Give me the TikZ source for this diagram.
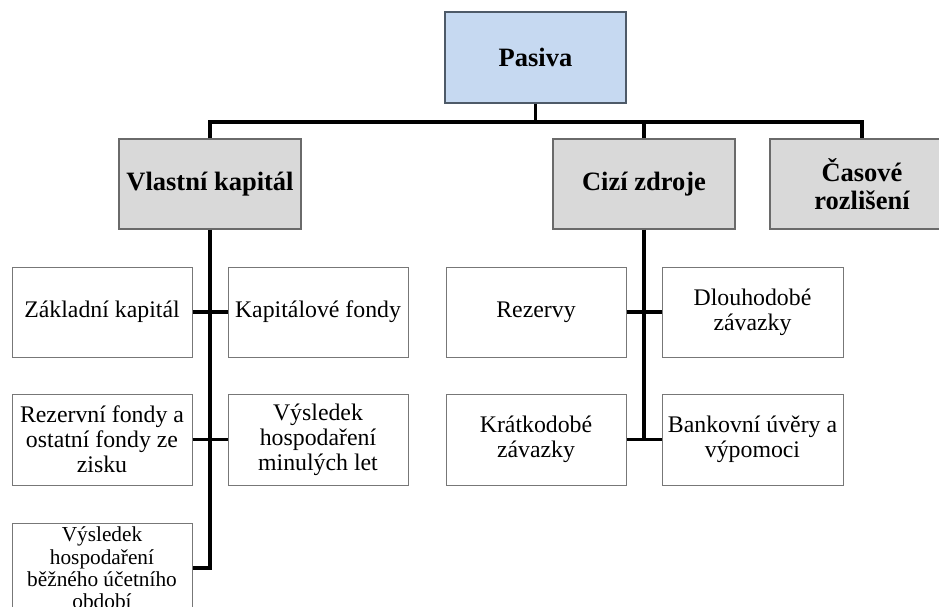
\documentclass[tikz,border=0pt]{standalone}
\usepackage{fontspec}
\setmainfont{Liberation Serif}
\definecolor{topfill}{HTML}{C6D9F1}
\definecolor{topline}{HTML}{4E5A68}
\definecolor{midfill}{HTML}{D9D9D9}
\definecolor{midline}{HTML}{6A6A6A}
\definecolor{leafline}{HTML}{777777}
\tikzset{
  topbox/.style={draw=topline, line width=1.2pt, fill=topfill, inner sep=0pt,
    minimum width=181pt, minimum height=91pt, align=center,
    font=\fontsize{26.5}{28}\selectfont\bfseries},
  midbox/.style={draw=midline, line width=1.2pt, fill=midfill, inner sep=0pt,
    minimum width=182pt, minimum height=90pt, align=center,
    font=\fontsize{26.5}{28}\selectfont\bfseries},
  leafbox/.style={draw=leafline, line width=1pt, fill=white, inner sep=0pt,
    minimum width=180pt, minimum height=90pt, align=center,
    font=\fontsize{23.8}{25}\selectfont},
  smalltext/.style={font=\fontsize{21.3}{22.3}\selectfont},
  conn/.style={draw=black, line width=3.2pt, line join=miter}
}
\begin{document}
\begin{tikzpicture}[x=1pt, y=-1pt]
  \useasboundingbox[fill=white] (0,0) rectangle (939,607);

  % top level
  \node[topbox] (pasiva) at (535.5,57.5) {Pasiva};

  % second level
  \node[midbox] (vk) at (210,184) {Vlastní kapitál};
  \node[midbox] (cz) at (644,184) {Cizí zdroje};
  \node[midbox, minimum width=184pt] (cr) at (862,184) {Časové\\rozlišení};

  % equity items
  \node[leafbox] (zk) at (102,312) {Základní kapitál};
  \node[leafbox] (kf) at (318,312) {Kapitálové fondy};
  \node[leafbox, minimum height=91pt] (rf) at (102,439.5) {Rezervní fondy a\\ostatní fondy ze\\zisku};
  \node[leafbox, minimum height=91pt] (vhml) at (318,439.5) {Výsledek\\hospodaření\\minulých let};
  \node[leafbox, smalltext] (vhb) at (102,568) {Výsledek\\hospodaření\\běžného účetního\\období};

  % liabilities items
  \node[leafbox] (rez) at (536,312) {Rezervy};
  \node[leafbox, minimum width=181pt] (dz) at (752.5,312) {Dlouhodobé\\závazky};
  \node[leafbox, minimum height=91pt] (kz) at (536,439.5) {Krátkodobé\\závazky};
  \node[leafbox, minimum width=181pt, minimum height=91pt] (bu) at (752.5,439.5) {Bankovní úvěry a\\výpomoci};

  % bus under the top box
  \coordinate (busy) at (0,122);
  \draw[conn] (vk.north) -- (vk.north |- busy) -- (cr.north |- busy) -- (cr.north);
  \draw[conn] (pasiva.south) -- (pasiva.south |- busy);
  \draw[conn] (cz.north) -- (cz.north |- busy);

  % equity trunk
  \draw[conn] (vk.south) -- (vk.south |- vhb.east) -- (vhb.east);
  \draw[conn] (zk.east) -- (kf.west);
  \draw[conn] (rf.east) -- (vhml.west);

  % liabilities trunk
  \draw[conn] (cz.south) -- (cz.south |- kz.east);
  \draw[conn] (rez.east) -- (dz.west);
  \draw[conn] (kz.east) -- (bu.west);
\end{tikzpicture}
\end{document}
